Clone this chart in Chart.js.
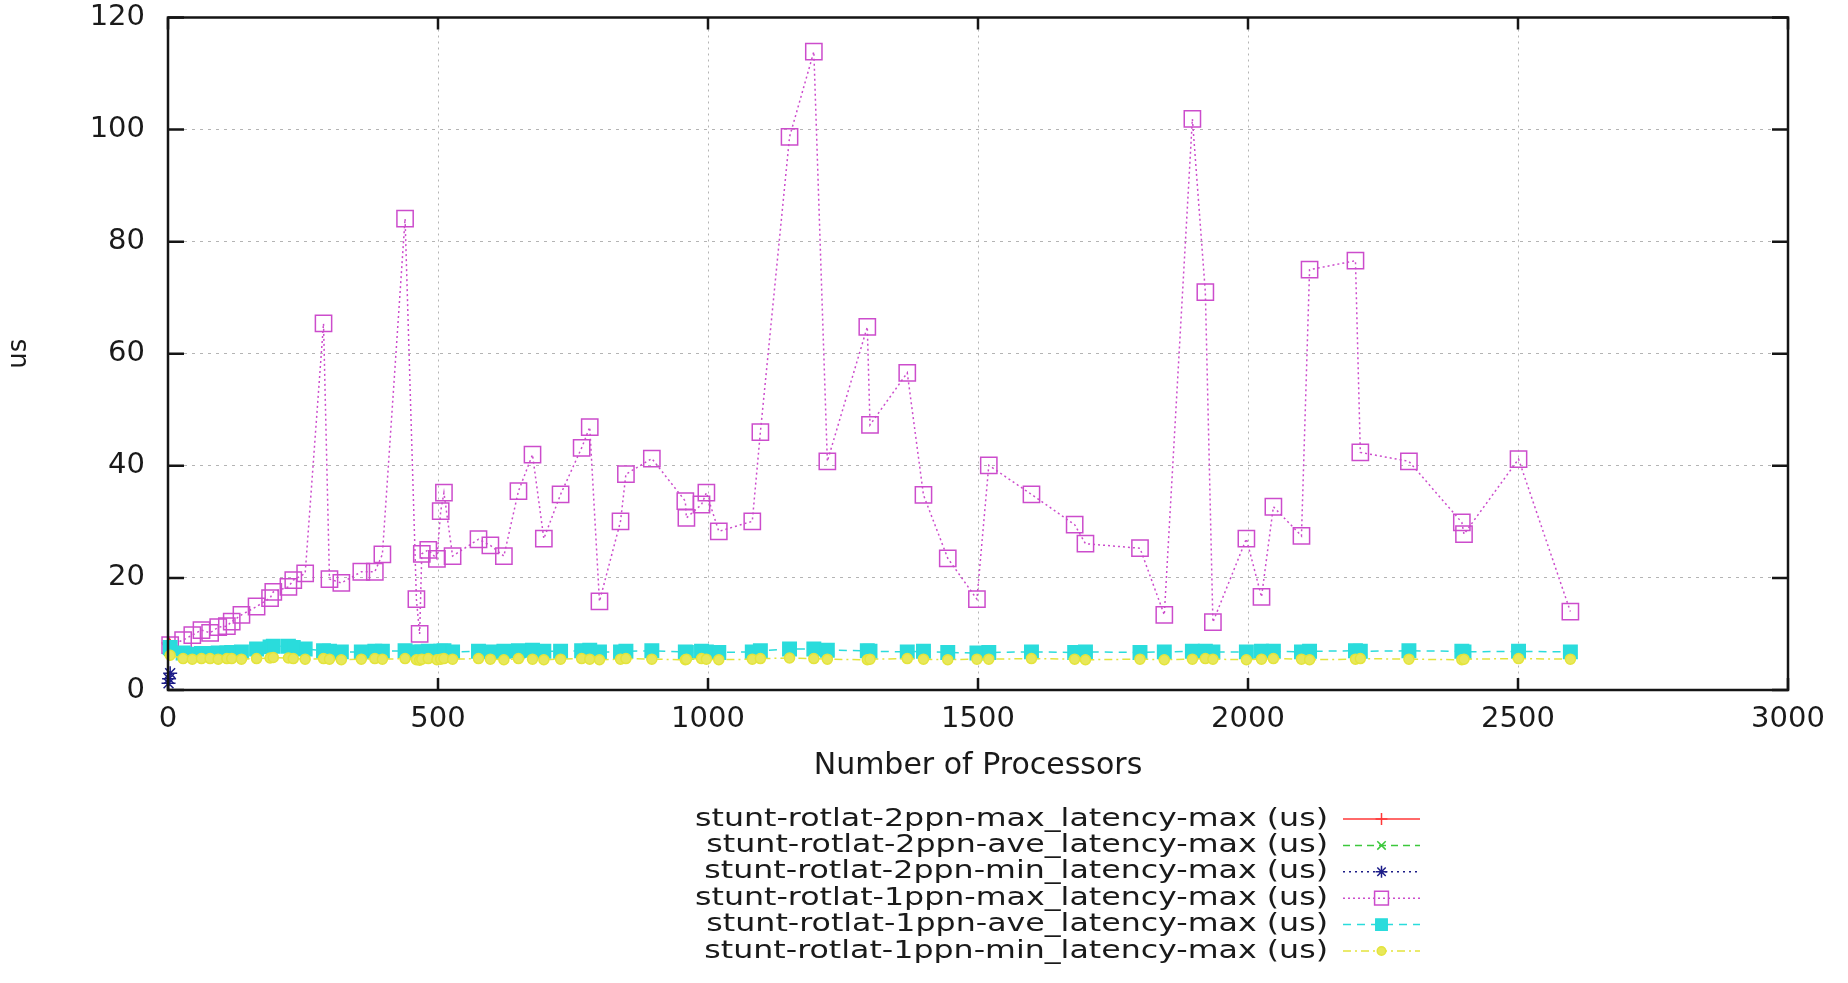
<!DOCTYPE html>
<html>
<head>
<meta charset="utf-8">
<script src="https://cdn.jsdelivr.net/npm/chart.js@4.4.1/dist/chart.umd.min.js"></script>
<style>
  html, body { margin: 0; padding: 0; background: #fff; }
  #wrap { width: 1848px; height: 983px; }
</style>
</head>
<body>
<div id="wrap"><canvas id="latencyChart" width="1848" height="983"></canvas></div>
<script>
// --- Data ---
const procs1ppn = [4, 28, 45, 62, 78, 93, 109, 118, 136, 164,
    189, 195, 223, 232, 254, 288, 299, 321, 358, 383,
    397, 439, 460, 466, 470, 482, 498, 505, 511, 527,
    575, 597, 622, 649, 675, 696, 727, 766, 781, 799,
    838, 848, 896, 958, 960, 988, 997, 1020, 1082, 1097,
    1151, 1196, 1221, 1295, 1300, 1369, 1399, 1444, 1498, 1520,
    1599, 1679, 1699, 1800, 1845, 1897, 1921, 1935, 1997, 2025,
    2047, 2099, 2114, 2199, 2208, 2298, 2396, 2400, 2501, 2597];
const max1ppn = [8.0, 8.9, 9.8, 10.7, 10.2, 11.2, 11.4, 12.2, 13.4, 14.9,
    16.4, 17.5, 18.4, 19.6, 20.8, 65.4, 19.8, 19.1, 21.1, 21.1,
    24.2, 84.1, 16.2, 10.0, 24.3, 25.0, 23.4, 31.9, 35.2, 23.9,
    26.9, 25.8, 23.9, 35.5, 42.0, 27.0, 34.9, 43.2, 46.9, 15.8,
    30.1, 38.5, 41.3, 33.7, 30.7, 33.1, 35.2, 28.3, 30.1, 46.0,
    98.7, 113.9, 40.8, 64.8, 47.3, 56.6, 34.8, 23.5, 16.2, 40.1,
    34.9, 29.5, 26.1, 25.3, 13.4, 101.9, 71.0, 12.1, 27.0, 16.6,
    32.7, 27.5, 75.0, 76.6, 42.4, 40.8, 29.9, 27.8, 41.2, 14.0];
const ave1ppn = [7.6, 6.6, 6.4, 6.5, 6.5, 6.6, 6.6, 6.7, 6.8, 7.3,
    7.7, 7.8, 7.8, 7.6, 7.3, 7.0, 6.9, 6.8, 6.8, 6.9,
    6.9, 7.0, 6.8, 6.7, 6.8, 6.9, 6.8, 6.9, 7.0, 6.8,
    6.9, 6.8, 6.9, 7.0, 7.1, 6.9, 6.9, 7.0, 7.1, 6.8,
    6.8, 6.9, 7.0, 6.8, 6.7, 6.9, 6.8, 6.7, 6.8, 7.0,
    7.3, 7.3, 7.1, 7.0, 6.9, 6.8, 6.9, 6.7, 6.6, 6.7,
    6.8, 6.7, 6.8, 6.7, 6.8, 6.9, 6.9, 6.8, 6.8, 6.9,
    6.9, 6.8, 6.9, 7.0, 6.9, 7.0, 6.9, 6.8, 6.9, 6.8];
const min1ppn = [6.2, 5.6, 5.5, 5.6, 5.6, 5.5, 5.6, 5.6, 5.5, 5.6,
    5.7, 5.8, 5.7, 5.6, 5.5, 5.6, 5.5, 5.4, 5.5, 5.6,
    5.5, 5.6, 5.4, 5.3, 5.5, 5.6, 5.4, 5.5, 5.6, 5.5,
    5.6, 5.5, 5.4, 5.6, 5.5, 5.4, 5.5, 5.6, 5.5, 5.4,
    5.5, 5.6, 5.5, 5.4, 5.5, 5.6, 5.5, 5.4, 5.5, 5.6,
    5.7, 5.6, 5.5, 5.4, 5.5, 5.6, 5.5, 5.4, 5.5, 5.5,
    5.6, 5.5, 5.4, 5.5, 5.4, 5.5, 5.6, 5.5, 5.4, 5.5,
    5.6, 5.5, 5.4, 5.5, 5.6, 5.5, 5.4, 5.5, 5.6, 5.5];
const procs2ppn = [1, 2, 4];
const max2ppn = [8.4, 8.1, 7.9];
const ave2ppn = [7.3, 7.0, 6.8];
const min2ppn = [1.2, 2.0, 3.0];

const xTicks = [0, 500, 1000, 1500, 2000, 2500, 3000];
const yTicks = [0, 20, 40, 60, 80, 100, 120];
const seriesLabels = [
    'stunt-rotlat-2ppn-max_latency-max (us)',
    'stunt-rotlat-2ppn-ave_latency-max (us)',
    'stunt-rotlat-2ppn-min_latency-max (us)',
    'stunt-rotlat-1ppn-max_latency-max (us)',
    'stunt-rotlat-1ppn-ave_latency-max (us)',
    'stunt-rotlat-1ppn-min_latency-max (us)'
];

const FONT = '"DejaVu Sans", sans-serif';

function pts(xs, ys) {
    return xs.map((v, i) => ({ x: v, y: ys[i] }));
}

function series(i, xs, ys, color, dash, style, radius, fill, order) {
    return {
        label: seriesLabels[i],
        data: pts(xs, ys),
        borderColor: color,
        borderWidth: 1.5,
        borderDash: dash,
        pointStyle: style,
        pointRadius: radius,
        pointBorderColor: color,
        pointBackgroundColor: fill,
        pointBorderWidth: 1.5,
        tension: 0,
        clip: false,
        order: order
    };
}

// gnuplot style box with inward tick marks, drawn over the data
const gnuplotFrame = {
    id: 'gnuplotFrame',
    afterDatasetsDraw(chart) {
        const { ctx, chartArea: a, scales: { x, y } } = chart;
        ctx.save();
        ctx.strokeStyle = '#151515';
        ctx.lineWidth = 2.5;
        ctx.setLineDash([]);
        ctx.strokeRect(a.left, a.top, a.right - a.left, a.bottom - a.top);
        ctx.beginPath();
        xTicks.forEach(v => {
            const px = x.getPixelForValue(v);
            ctx.moveTo(px, a.bottom); ctx.lineTo(px, a.bottom - 12);
            ctx.moveTo(px, a.top); ctx.lineTo(px, a.top + 12);
        });
        yTicks.forEach(v => {
            const py = y.getPixelForValue(v);
            ctx.moveTo(a.left, py); ctx.lineTo(a.left + 16, py);
            ctx.moveTo(a.right, py); ctx.lineTo(a.right - 16, py);
        });
        ctx.stroke();
        ctx.restore();
    }
};

// key below the plot: text right aligned, sample line to its right
const keyBelow = {
    id: 'keyBelow',
    afterDraw(chart) {
        const ctx = chart.ctx;
        const textRight = 1328, lineL = 1343, lineR = 1420, top = 819, step = 26.4;
        ctx.save();
        ctx.font = '25px ' + FONT;
        const widest = Math.max(...seriesLabels.map(t => ctx.measureText(t).width));
        const sx = 633 / widest;
        chart.data.datasets.forEach((ds, i) => {
            const yy = top + i * step;
            ctx.save();
            ctx.translate(textRight, yy);
            ctx.scale(sx, 1);
            ctx.fillStyle = '#1a1a1a';
            ctx.textAlign = 'right';
            ctx.textBaseline = 'middle';
            ctx.fillText(ds.label, 0, 0);
            ctx.restore();

            ctx.strokeStyle = ds.borderColor;
            ctx.lineWidth = ds.borderWidth;
            ctx.setLineDash(ds.borderDash);
            ctx.beginPath();
            ctx.moveTo(lineL, yy);
            ctx.lineTo(lineR, yy);
            ctx.stroke();
            ctx.setLineDash([]);
            ctx.fillStyle = ds.pointBackgroundColor;
            ctx.strokeStyle = ds.pointBorderColor;
            ctx.lineWidth = ds.pointBorderWidth;
            Chart.helpers.drawPoint(ctx, {
                pointStyle: ds.pointStyle,
                radius: ds.pointRadius * 0.85,
                rotation: 0,
                borderWidth: ds.pointBorderWidth
            }, (lineL + lineR) / 2, yy);
        });
        ctx.restore();
    }
};

new Chart(document.getElementById('latencyChart'), {
    type: 'line',
    data: {
        datasets: [
            series(0, procs2ppn, max2ppn, '#ff3838', [], 'cross', 7, 'transparent', 5),
            series(1, procs2ppn, ave2ppn, '#3cc83c', [7, 5], 'crossRot', 7, 'transparent', 4),
            series(2, procs2ppn, min2ppn, '#1c1c88', [2, 4], 'star', 7, 'transparent', 3),
            series(3, procs1ppn, max1ppn, '#cc4ccc', [2, 3], 'rect', 11.5, 'rgba(0,0,0,0)', 2),
            series(4, procs1ppn, ave1ppn, '#2adcdc', [8, 6], 'rect', 9.5, '#2adcdc', 1),
            series(5, procs1ppn, min1ppn, '#e4e43c', [8, 4, 2, 4], 'circle', 5, '#e8e85a', 0)
        ]
    },
    options: {
        responsive: false,
        animation: false,
        devicePixelRatio: 1,
        layout: { padding: { top: 17.5, right: 60, bottom: 0, left: 0 } },
        plugins: {
            legend: { display: false },
            tooltip: { enabled: false }
        },
        scales: {
            x: {
                type: 'linear',
                min: 0,
                max: 3000,
                afterBuildTicks: s => { s.ticks = xTicks.map(v => ({ value: v })); },
                afterFit: s => { s.height = 293; },
                grid: { color: '#b4b4b4', lineWidth: 1, drawTicks: false },
                border: { display: false, dash: [2, 4] },
                ticks: {
                    color: '#1a1a1a', font: { family: FONT, size: 29 }, padding: 12, maxRotation: 0,
                    callback: v => String(v)
                },
                title: {
                    display: true,
                    text: 'Number of Processors',
                    color: '#1a1a1a',
                    font: { family: FONT, size: 30 },
                    padding: { top: 0, bottom: 199 }
                }
            },
            y: {
                type: 'linear',
                min: 0,
                max: 120,
                afterBuildTicks: s => { s.ticks = yTicks.map(v => ({ value: v })); },
                afterFit: s => { s.width = 168; s.paddingTop = 0; s.paddingBottom = 0; },
                grid: { color: '#b4b4b4', lineWidth: 1, drawTicks: false },
                border: { display: false, dash: [3, 5] },
                ticks: {
                    color: '#1a1a1a', font: { family: FONT, size: 29 }, padding: 23,
                    callback: v => String(v)
                },
                title: {
                    display: true,
                    text: 'us',
                    color: '#1a1a1a',
                    font: { family: FONT, size: 26 },
                    padding: { top: 4, bottom: 0 }
                }
            }
        }
    },
    plugins: [gnuplotFrame, keyBelow]
});
</script>
</body>
</html>
